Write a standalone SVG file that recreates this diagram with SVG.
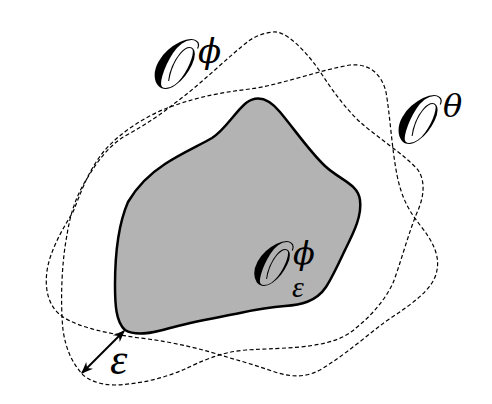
<svg xmlns="http://www.w3.org/2000/svg" width="492" height="404" viewBox="0 0 492 404">
<style>
.dash{fill:none;stroke:#000;stroke-width:1.2;stroke-dasharray:4 2.5}
.lbl{font-family:"DejaVu Serif","Liberation Serif",serif;font-style:italic;fill:#000}
.thin{font-family:"Liberation Serif","DejaVu Serif",serif;font-style:italic;fill:#000}
.cal{font-family:"DejaVu Sans","Noto Sans","Liberation Serif",serif;fill:#000}
</style>
<defs>
<marker id="ah" viewBox="0 0 10 10" refX="9" refY="5" markerWidth="6" markerHeight="6" orient="auto-start-reverse" markerUnits="strokeWidth">
<path d="M0,1 L10,5 L0,9 L3,5 Z" fill="#000"/>
</marker>
</defs>
<rect width="492" height="404" fill="#fff"/>
<g id="connectors">
<path id="curveA" class="dash" d="M 273,32 C 285,30 305,50 319,70 C 332,90 345,108 360,122 C 378,138 405,155 418,170 C 426,182 424,198 416,215 C 408,235 400,265 393,283 C 385,300 372,315 356,328 C 345,338 330,344 300,347 C 275,349 260,349 246,350 C 220,352 200,362 185,369 C 165,378 140,384 115,385 C 100,385 88,380 82,374 C 72,362 66,350 63,330 C 60,300 62,260 67,235 C 70,215 76,195 88,177 C 98,160 110,145 125,136 C 145,125 160,115 175,103 C 200,85 230,55 250,40 C 258,35 265,33 273,32 Z"/>
<path id="curveB" class="dash" d="M 170,107 C 200,96 225,92 250,89 C 280,85 320,70 350,65 C 370,63 382,75 386,92 C 390,115 392,150 397,175 C 402,200 410,212 420,225 C 432,240 440,255 437,270 C 434,290 410,305 385,322 C 365,337 345,355 320,370 C 305,378 290,377 275,372 C 260,367 245,362 230,358 C 205,350 175,342 140,338 C 110,334 80,328 63,317 C 45,305 43,280 50,258 C 56,240 65,225 73,212 C 80,195 88,170 105,150 C 120,133 145,116 170,107 Z"/>
<line x1="82" y1="373" x2="124" y2="331" stroke="#000" stroke-width="2" marker-start="url(#ah)" marker-end="url(#ah)"/>
</g>
<g id="set-eps">
<path d="M 246,103 C 258,94 270,100 280,112 C 295,130 310,152 325,166 C 340,180 358,184 360,200 C 362,215 355,230 345,250 C 338,265 332,278 326,287 C 316,302 300,305 285,306 C 270,307 258,309 240,313 C 215,318 190,322 170,328 C 150,334 135,336 125,330 C 116,322 115,305 115,285 C 115,255 118,225 128,202 C 135,190 148,175 165,164 C 180,154 200,145 212,138 C 225,130 235,112 246,103 Z" fill="#b3b3b3" stroke="#000" stroke-width="2.5"/>
<text class="cal" x="251" y="285" font-size="62">𝒪</text>
<text class="lbl" x="293" y="264" font-size="32">ϕ</text>
<text class="thin" x="292" y="297" font-size="30">ε</text>
</g>
<g id="set-phi">
<text class="cal" x="151" y="88" font-size="70">𝒪</text>
<text class="lbl" x="198" y="63" font-size="34">ϕ</text>
</g>
<g id="set-theta">
<text class="cal" x="395" y="143" font-size="68">𝒪</text>
<text class="lbl" x="443" y="117" font-size="32">θ</text>
</g>
<g id="eps-label">
<text class="thin" x="110" y="374" font-size="44">ε</text>
</g>
</svg>
